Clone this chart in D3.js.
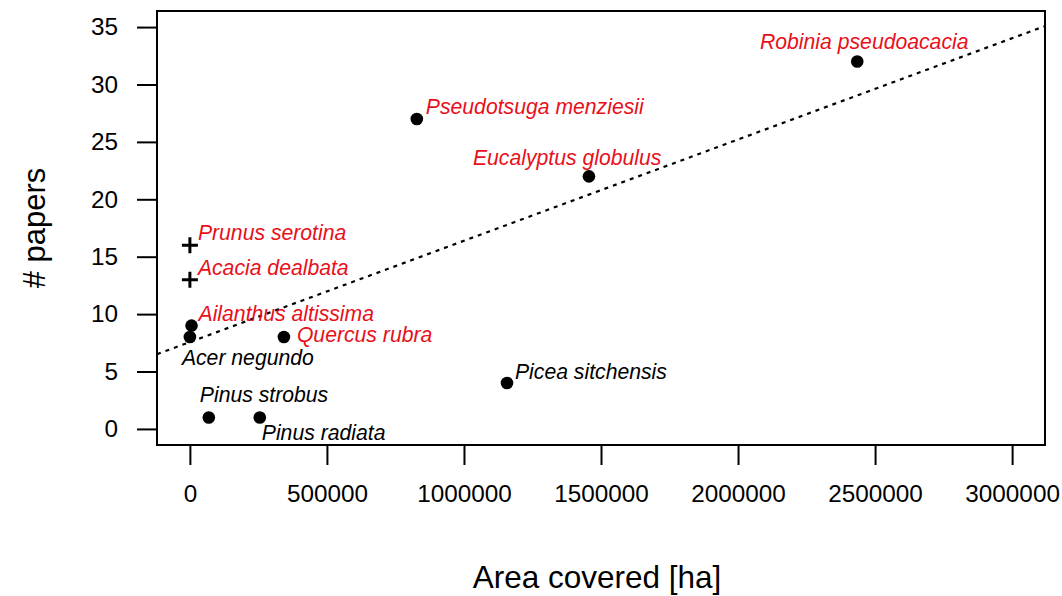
<!DOCTYPE html>
<html>
<head>
<meta charset="utf-8">
<script src="https://cdn.jsdelivr.net/npm/d3@7/dist/d3.min.js"></script>
<style>
  html, body { margin: 0; padding: 0; background: #fff; }
  text { font-family: "Liberation Sans", Arial, sans-serif; }
</style>
</head>
<body>
<svg id="chart" width="1062" height="596"></svg>
<script>
// ---- data ----
const species = ["Robinia pseudoacacia", "Pseudotsuga menziesii", "Eucalyptus globulus",
  "Picea sitchensis", "Prunus serotina", "Acacia dealbata", "Ailanthus altissima",
  "Acer negundo", "Quercus rubra", "Pinus strobus", "Pinus radiata"];
const areaHa = [2435000, 828000, 1456000, 1157000, 0, 0, 6000, 0, 343000, 69000, 255000];
const papers = [32, 27, 22, 4, 16, 13, 9, 8, 8, 1, 1];
const marker = ["dot", "dot", "dot", "dot", "plus", "plus", "dot", "dot", "dot", "dot", "dot"];
const highlighted = [true, true, true, false, true, true, true, false, true, false, false];
const xTicks = [0, 500000, 1000000, 1500000, 2000000, 2500000, 3000000];
const yTicks = [0, 5, 10, 15, 20, 25, 30, 35];
const xTitle = "Area covered [ha]";
const yTitle = "# papers";

// label placement (pixel offsets from the point: dx, dy to baseline, anchor)
const labelPlacement = [
  [7, -13, "middle"], [9, -5, "start"], [-116, -11, "start"], [8, -4, "start"],
  [8, -5, "start"], [8, -5, "start"], [7, -5, "start"], [-8, 28, "start"],
  [13, 5, "start"], [-9, -15, "start"], [2, 23, "start"]
];

// ---- layout ----
const svg = d3.select("#chart");
const plot = { left: 157, right: 1045, top: 11, bottom: 445 };
const x = d3.scaleLinear().domain([-120000, 3120000]).range([plot.left, plot.right]);
const y = d3.scaleLinear().domain([-1.4, 36.4]).range([plot.bottom, plot.top]);
const RED = "#e8101a";

// clip
svg.append("defs").append("clipPath").attr("id", "clip")
  .append("rect").attr("x", plot.left).attr("y", plot.top)
  .attr("width", plot.right - plot.left).attr("height", plot.bottom - plot.top);

// regression line (least squares over the data)
const n = areaHa.length;
const mx = d3.mean(areaHa), my = d3.mean(papers);
let sxy = 0, sxx = 0;
for (let i = 0; i < n; i++) { sxy += (areaHa[i] - mx) * (papers[i] - my); sxx += (areaHa[i] - mx) ** 2; }
const slope = sxy / sxx, intercept = my - slope * mx;
const xd = x.domain();
svg.append("line")
  .attr("clip-path", "url(#clip)")
  .attr("x1", x(xd[0])).attr("y1", y(intercept + slope * xd[0]))
  .attr("x2", x(xd[1])).attr("y2", y(intercept + slope * xd[1]))
  .attr("stroke", "#000").attr("stroke-width", 2.2).attr("stroke-dasharray", "4,5");

// box
svg.append("rect").attr("x", plot.left).attr("y", plot.top)
  .attr("width", plot.right - plot.left).attr("height", plot.bottom - plot.top)
  .attr("fill", "none").attr("stroke", "#000").attr("stroke-width", 2);

// axes
const xAxis = d3.axisBottom(x).tickValues(xTicks).tickSize(20).tickPadding(20).tickFormat(d3.format("d"));
const gx = svg.append("g").attr("transform", `translate(0,${plot.bottom})`).call(xAxis);
gx.select(".domain").attr("d", `M${x(xTicks[0])},0H${x(xTicks[xTicks.length - 1])}`).attr("stroke-width", 2);
gx.selectAll(".tick line").attr("stroke-width", 2);
gx.selectAll(".tick text").attr("font-size", 24.3).attr("fill", "#000")
  .attr("font-family", "Liberation Sans, Arial, sans-serif");

const yAxis = d3.axisLeft(y).tickValues(yTicks).tickSize(20).tickPadding(19);
const gy = svg.append("g").attr("transform", `translate(${plot.left},0)`).call(yAxis);
gy.select(".domain").attr("d", `M0,${y(yTicks[0])}V${y(yTicks[yTicks.length - 1])}`).attr("stroke-width", 2);
gy.selectAll(".tick line").attr("stroke-width", 2);
gy.selectAll(".tick text").attr("font-size", 24.3).attr("fill", "#000")
  .attr("font-family", "Liberation Sans, Arial, sans-serif");

// titles
svg.append("text").attr("x", 597).attr("y", 588)
  .attr("text-anchor", "middle").attr("font-size", 31.5).text(xTitle);
svg.append("text").attr("transform", `translate(45,${(plot.top + plot.bottom) / 2}) rotate(-90)`)
  .attr("text-anchor", "middle").attr("font-size", 31).text(yTitle);

// points
const idx = d3.range(n);
svg.selectAll("circle.pt").data(idx.filter(i => marker[i] === "dot")).join("circle")
  .attr("class", "pt").attr("cx", i => x(areaHa[i])).attr("cy", i => y(papers[i]))
  .attr("r", 6.3).attr("fill", "#000");
const plusSize = 8;
svg.selectAll("path.plus").data(idx.filter(i => marker[i] === "plus")).join("path")
  .attr("class", "plus")
  .attr("d", i => {
    const cx = x(areaHa[i]), cy = y(papers[i]);
    return `M${cx - plusSize},${cy}H${cx + plusSize}M${cx},${cy - plusSize}V${cy + plusSize}`;
  })
  .attr("stroke", "#000").attr("stroke-width", 3).attr("fill", "none");

// labels
svg.selectAll("text.lab").data(idx).join("text")
  .attr("class", "lab")
  .attr("x", i => x(areaHa[i]) + labelPlacement[i][0])
  .attr("y", i => y(papers[i]) + labelPlacement[i][1])
  .attr("text-anchor", i => labelPlacement[i][2])
  .attr("font-size", 21.2).attr("font-style", "italic")
  .attr("fill", i => highlighted[i] ? RED : "#000")
  .text(i => species[i]);
</script>
</body>
</html>
